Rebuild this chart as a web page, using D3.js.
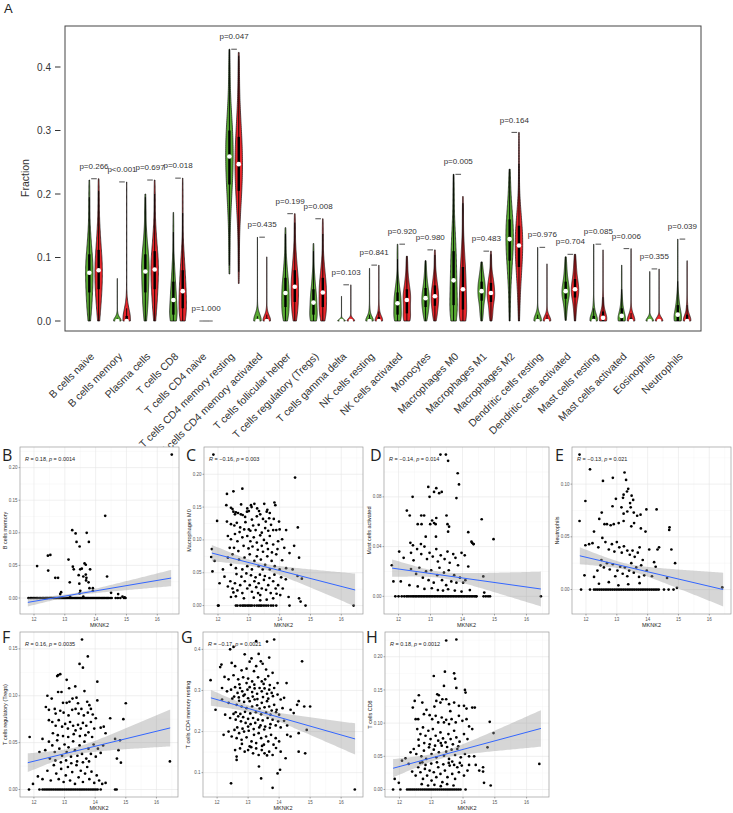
<!DOCTYPE html>
<html><head><meta charset="utf-8">
<script src="https://cdn.jsdelivr.net/npm/d3@7"></script>
<style>body{margin:0;background:#fff}svg{display:block}</style>
</head><body>
<svg id="c" width="733" height="813"></svg>
<script>
// ---------------- Panel A data ----------------
const categories = ["B cells naive","B cells memory","Plasma cells","T cells CD8","T cells CD4 naive","T cells CD4 memory resting","T cells CD4 memory activated","T cells follicular helper","T cells regulatory (Tregs)","T cells gamma delta","NK cells resting","NK cells activated","Monocytes","Macrophages M0","Macrophages M1","Macrophages M2","Dendritic cells resting","Dendritic cells activated","Mast cells resting","Mast cells activated","Eosinophils","Neutrophils"];
// quantiles at probs [0, .1, .25, .5, .75, .9, 1]
const normalQuantiles = [
 [0,0.02,0.045,0.076,0.105,0.14,0.222],
 [0,0,0,0,0.002,0.012,0.067],
 [0,0.02,0.045,0.078,0.105,0.135,0.2],
 [0,0,0.01,0.033,0.062,0.095,0.171],
 [0,0,0,0,0,0,0],
 [0.074,0.17,0.215,0.259,0.3,0.34,0.428],
 [0,0,0,0,0.003,0.015,0.132],
 [0,0.008,0.022,0.044,0.068,0.095,0.147],
 [0,0,0.01,0.029,0.05,0.075,0.122],
 [0,0,0,0,0,0.002,0.039],
 [0,0,0,0,0.004,0.02,0.083],
 [0,0,0.01,0.028,0.045,0.065,0.121],
 [0,0.01,0.022,0.036,0.052,0.07,0.095],
 [0,0.005,0.025,0.064,0.11,0.15,0.231],
 [0,0.015,0.032,0.047,0.062,0.075,0.093],
 [0,0.06,0.095,0.129,0.16,0.19,0.239],
 [0,0,0,0,0.004,0.015,0.116],
 [0.001,0.02,0.035,0.047,0.062,0.08,0.101],
 [0,0,0,0,0.008,0.03,0.121],
 [0,0,0,0.008,0.02,0.04,0.088],
 [0,0,0,0,0,0.002,0.078],
 [0,0,0,0.01,0.025,0.045,0.129]
];
const tumorQuantiles = [
 [0,0.025,0.05,0.080,0.112,0.15,0.224],
 [0,0,0,0,0.008,0.03,0.219],
 [0,0.025,0.05,0.081,0.11,0.145,0.222],
 [0,0.005,0.02,0.047,0.08,0.115,0.225],
 [0,0,0,0,0,0,0],
 [0.059,0.16,0.205,0.247,0.29,0.335,0.423],
 [0,0,0,0,0.004,0.018,0.101],
 [0,0.012,0.03,0.054,0.08,0.11,0.169],
 [0,0.008,0.022,0.045,0.068,0.095,0.161],
 [0,0,0,0,0,0.003,0.057],
 [0,0,0,0,0.006,0.025,0.088],
 [0,0,0.012,0.033,0.05,0.07,0.102],
 [0,0.01,0.024,0.039,0.056,0.075,0.112],
 [0,0.003,0.018,0.05,0.085,0.12,0.196],
 [0,0.012,0.03,0.044,0.06,0.075,0.11],
 [0,0.05,0.085,0.119,0.15,0.185,0.297],
 [0,0,0,0,0.004,0.015,0.09],
 [0,0.02,0.037,0.05,0.066,0.085,0.105],
 [0,0,0,0.005,0.015,0.04,0.112],
 [0,0,0,0,0.005,0.02,0.114],
 [0,0,0,0,0,0.003,0.082],
 [0,0,0,0,0.01,0.03,0.095]
];
const pLabels = ["p=0.266","p<0.001","p=0.697","p=0.018","p=1.000","p=0.047","p=0.435","p=0.199","p=0.008","p=0.103","p=0.841","p=0.920","p=0.980","p=0.005","p=0.483","p=0.164","p=0.976","p=0.704","p=0.085","p=0.006","p=0.355","p=0.039"];
const fractionTicks = [0,0.1,0.2,0.3,0.4];

// ---------------- Scatter panels data (MKNK2 vs fraction) ----------------
const mknk2Ticks = [12,13,14,15,16];
const bMemoryPts = [[12.1,0.049],[12.45,0.065],[12.53,0.066],[12.46,0.042],[12.69,0.031],[12.78,0.031],[12.85,0.006],[12.88,0.009],[13.12,0.059],[13.24,0.104],[13.35,0.099],[13.38,0.086],[13.48,0.079],[13.71,0.1],[13.78,0.086],[13.26,0.048],[13.29,0.044],[13.16,0.024],[13.45,0.035],[13.47,0.022],[13.5,0.044],[13.55,0.045],[13.64,0.053],[13.68,0.051],[13.6,0.033],[13.68,0.036],[13.7,0.031],[13.69,0.027],[13.77,0.024],[13.82,0.044],[13.8,0.015],[13.91,0.015],[13.91,0.011],[13.5,0.011],[13.48,0.007],[14.31,0.126],[14.37,0.033],[14.5,0.008],[14.73,0.006],[14.87,0.002],[14.94,0.001],[13.6,0.002],[13.17,0.002],[16.47,0.22]];
const bMemoryZeros = [11.82,11.88,11.93,11.98,12.03,12.08,12.12,12.17,12.22,12.27,12.31,12.36,12.4,12.44,12.49,12.53,12.57,12.62,12.66,12.7,12.74,12.78,12.82,12.86,12.9,12.94,12.98,13.02,13.06,13.1,13.14,13.18,13.22,13.26,13.3,13.34,13.38,13.42,13.46,13.5,13.54,13.58,13.62,13.66,13.7,13.74,13.78,13.82,13.86,13.9,13.94,13.98,14.02,14.06,14.1,14.14,14.18,14.22,14.26,14.3,14.34,14.38,14.42,14.47,14.52,14.65,14.72,14.8,14.92,14.97];
const m0Pts = [[11.85,0.23],[14.5,0.195],[14.59,0.119],[11.97,0.129],[12.29,0.17],[12.5,0.174],[12.79,0.178],[12.27,0.153],[12.42,0.149],[12.5,0.143],[12.55,0.139],[12.65,0.141],[12.75,0.154],[12.8,0.138],[12.88,0.135],[12.95,0.148],[13.0,0.144],[13.09,0.15],[13.18,0.155],[13.27,0.148],[13.37,0.139],[13.5,0.155],[13.6,0.146],[13.83,0.157],[13.68,0.141],[13.46,0.132],
[12.47,0.147],[12.58,0.142],[12.74,0.139],[12.94,0.143],[13.07,0.153],[13.26,0.136],[13.33,0.144],[13.58,0.143],[13.66,0.133],[13.81,0.132],[13.86,0.153],
[12.29,0.128],[12.42,0.124],[12.53,0.122],[12.61,0.126],[12.72,0.119],[12.89,0.127],[13.0,0.116],[13.05,0.114],[13.14,0.122],[13.22,0.115],[13.32,0.123],[13.42,0.111],[13.53,0.118],[13.63,0.114],[13.79,0.115],[13.89,0.115],[14.0,0.116],[14.21,0.115],
[12.32,0.106],[12.42,0.101],[12.55,0.109],[12.63,0.098],[12.79,0.104],[12.95,0.106],[13.05,0.098],[13.16,0.104],[13.26,0.096],[13.37,0.107],[13.42,0.091],[13.49,0.1],[13.58,0.095],[13.68,0.106],[13.79,0.093],[13.95,0.098],[14.08,0.101],[14.32,0.08],[14.63,0.073],[14.47,0.091],
[11.78,0.074],[11.8,0.086],[11.89,0.068],[12.16,0.055],[12.32,0.073],[12.42,0.062],[12.47,0.078],[12.58,0.057],[12.68,0.07],[12.79,0.055],[12.86,0.073],[12.95,0.06],[13.03,0.078],[13.1,0.055],[13.18,0.068],[13.26,0.075],[13.32,0.06],[13.39,0.07],[13.45,0.055],[13.53,0.062],[13.6,0.075],[13.68,0.055],[13.74,0.068],[13.84,0.06],[13.89,0.078],[14.0,0.055],[14.08,0.069],[14.21,0.057],[14.42,0.055],[14.58,0.045],[14.72,0.041],
[11.82,0.052],[12.05,0.034],[12.21,0.044],[12.32,0.029],[12.4,0.037],[12.47,0.026],[12.55,0.034],[12.63,0.023],[12.72,0.031],[12.79,0.019],[12.87,0.037],[12.95,0.026],[13.03,0.031],[13.1,0.021],[13.18,0.037],[13.24,0.028],[13.32,0.034],[13.37,0.016],[13.42,0.026],[13.49,0.039],[13.56,0.024],[13.63,0.031],[13.71,0.019],[13.79,0.037],[13.87,0.026],[13.95,0.031],[14.02,0.016],[14.1,0.026],[14.29,0.013],[14.63,0.011],[14.68,0.006],[12.42,0.013],[12.58,0.014],[12.84,0.011],[13.16,0.012],[13.37,0.008],[13.58,0.009],[13.79,0.011],
[12.52,0.088],[12.66,0.083],[12.83,0.091],[12.99,0.087],[13.12,0.09],[13.29,0.085],[13.46,0.082],[13.62,0.086],[13.75,0.081],[13.93,0.086],[12.6,0.048],[12.76,0.044],[12.92,0.049],[13.07,0.046],[13.22,0.043],[13.36,0.047],[13.52,0.045],[13.67,0.042],[13.83,0.047],[14.05,0.043],[12.7,0.112],[12.85,0.116],[13.1,0.131],[13.55,0.128],[13.72,0.123],[13.98,0.128],[12.38,0.088],[14.15,0.088],[12.5,0.02],[13.3,0.019],[13.9,0.018],[14.2,0.04]];
const m0Zeros = [12.0,12.02,12.58,12.63,12.72,12.79,12.84,12.89,12.95,13.0,13.05,13.1,13.18,13.26,13.32,13.37,13.42,13.49,13.56,13.63,13.72,13.79,13.89,14.32,14.84,16.4];
const mastActPts = [[13.31,0.114],[13.48,0.114],[13.55,0.109],[13.85,0.099],[13.89,0.09],[13.81,0.079],[12.44,0.08],[12.93,0.088],[12.97,0.08],[13.11,0.084],[13.18,0.087],[13.27,0.083],[13.35,0.084],[12.26,0.069],[12.35,0.065],[12.71,0.065],[12.8,0.065],[12.6,0.058],[12.72,0.058],[12.99,0.058],[13.05,0.061],[13.11,0.059],[13.18,0.063],[13.16,0.058],[13.5,0.065],[13.53,0.058],[13.58,0.056],[13.55,0.052],[14.18,0.0516],[14.6,0.062],[14.97,0.046],[12.85,0.048],[13.17,0.048],[12.37,0.043],[12.45,0.041],[12.7,0.042],[14.3,0.043],[14.35,0.042],
[11.79,0.025],[11.84,0.012],[12.02,0.036],[12.16,0.031],[12.39,0.035],[12.47,0.029],[12.58,0.038],[12.71,0.034],[12.81,0.04],[12.89,0.03],[12.97,0.035],[13.07,0.032],[13.18,0.038],[13.23,0.028],[13.32,0.033],[13.44,0.03],[13.53,0.036],[13.6,0.027],[13.71,0.034],[13.78,0.031],[13.86,0.025],[13.97,0.035],[14.07,0.033],[14.28,0.044],[14.34,0.042],[14.18,0.024],[14.65,0.016],[12.07,0.012],[12.39,0.022],[12.55,0.018],[12.65,0.023],[12.76,0.015],[12.86,0.02],[12.94,0.013],[13.02,0.021],[13.1,0.011],[13.21,0.017],[13.28,0.023],[13.36,0.013],[13.42,0.019],[13.49,0.009],[13.57,0.021],[13.65,0.012],[13.74,0.017],[13.81,0.011],[13.92,0.015],[14.02,0.011],[14.09,0.013],[12.34,0.009],[12.6,0.008],[12.81,0.006],[13.04,0.0065],[13.23,0.005],[13.39,0.0046],[13.55,0.0057],[13.76,0.0046],[13.97,0.0038],[14.23,0.005],[14.68,0.003]];
const mastActZeros = [11.9,12.0,12.1,12.18,12.25,12.3,12.36,12.42,12.47,12.52,12.57,12.62,12.67,12.72,12.77,12.82,12.87,12.92,12.97,13.02,13.07,13.12,13.17,13.22,13.27,13.32,13.37,13.42,13.47,13.52,13.57,13.62,13.67,13.72,13.77,13.82,13.87,13.92,13.97,14.02,14.07,14.12,14.17,14.22,14.27,14.32,14.37,14.42,14.44,14.66,14.73,14.8,14.86,16.45];
const neutroPts = [[11.79,0.128],[12.13,0.114],[12.55,0.103],[12.87,0.106],[13.25,0.111],[13.3,0.104],[11.98,0.084],[13.37,0.0955],[13.33,0.093],[13.22,0.09],[13.2,0.087],[12.97,0.086],[13.48,0.089],[13.53,0.085],[13.43,0.082],[12.51,0.073],[12.86,0.079],[13.15,0.078],[13.22,0.072],[13.34,0.074],[13.45,0.078],[13.55,0.073],[13.66,0.07],[13.77,0.071],[13.96,0.076],[14.29,0.076],[11.79,0.065],[12.43,0.067],[12.6,0.062],[12.68,0.062],[12.8,0.061],[12.9,0.062],[13.06,0.063],[13.22,0.065],[13.47,0.06],[13.56,0.063],[13.78,0.058],[13.93,0.055],[14.71,0.059],
[11.98,0.042],[12.1,0.043],[12.21,0.044],[12.26,0.055],[12.4,0.04],[12.53,0.049],[12.63,0.045],[12.74,0.038],[12.84,0.043],[12.92,0.036],[13.0,0.045],[13.08,0.04],[13.16,0.035],[13.23,0.041],[13.34,0.037],[13.42,0.033],[13.51,0.037],[13.58,0.031],[13.68,0.035],[13.74,0.04],[13.84,0.028],[14.05,0.038],[14.32,0.038],[14.37,0.04],[14.77,0.038],[14.89,0.025],[14.7,0.0565],
[11.95,0.0135],[12.26,0.012],[12.37,0.018],[12.47,0.023],[12.5,0.028],[12.58,0.021],[12.68,0.025],[12.77,0.019],[12.87,0.024],[12.95,0.0126],[13.02,0.018],[13.11,0.0216],[13.19,0.015],[13.26,0.021],[13.34,0.0126],[13.4,0.018],[13.47,0.025],[13.55,0.016],[13.63,0.021],[13.72,0.012],[13.79,0.023],[13.89,0.0135],[13.97,0.018],[14.14,0.0126],[14.21,0.026],[14.26,0.0216],[14.63,0.011],[12.42,0.0055],[12.74,0.007],[13.05,0.004],[13.37,0.005],[13.74,0.006],[14.95,0.0016],[16.42,0.002]];
const neutroZeros = [11.84,12.13,12.26,12.32,12.38,12.44,12.5,12.56,12.62,12.68,12.74,12.8,12.86,12.92,12.98,13.04,13.1,13.16,13.22,13.28,13.34,13.4,13.46,13.52,13.58,13.64,13.7,13.76,13.82,13.88,13.94,14.0,14.06,14.12,14.18,14.24,14.3,14.36,14.53,14.68,14.84];
const tregPts = [[13.57,0.16],[13.76,0.142],[13.49,0.134],[13.6,0.13],[12.79,0.122],[12.86,0.123],[12.76,0.121],[14.07,0.115],[13.07,0.117],[12.44,0.1],[12.58,0.097],[12.79,0.104],[12.95,0.0925],[13.07,0.0925],[13.16,0.0936],[13.26,0.097],[13.39,0.098],[13.44,0.092],[13.74,0.0936],[13.81,0.09],[14.07,0.095],[15.0,0.092],[12.39,0.088],[12.49,0.085],[12.68,0.086],[12.71,0.081],[12.86,0.084],[12.97,0.082],[13.13,0.079],[13.25,0.085],[13.36,0.086],[13.46,0.081],[13.55,0.086],[13.63,0.079],[13.76,0.082],[13.86,0.086],[13.92,0.08],[14.02,0.076],[14.49,0.076],[14.92,0.075],[11.86,0.056],[12.28,0.054],[12.49,0.074],[12.6,0.072],[12.71,0.068],[12.81,0.074],[12.92,0.067],[13.02,0.07],[13.11,0.065],[13.18,0.072],[13.28,0.068],[13.36,0.063],[13.44,0.069],[13.53,0.065],[13.6,0.071],[13.71,0.068],[13.78,0.061],[13.86,0.072],[13.97,0.065],[14.18,0.066],[14.28,0.067],[14.34,0.06],[14.76,0.042],[14.81,0.0525],[14.65,0.054],
[12.18,0.04],[12.37,0.042],[12.49,0.051],[12.6,0.047],[12.68,0.04],[12.76,0.0525],[12.83,0.0436],[12.92,0.036],[13.0,0.048],[13.07,0.04],[13.13,0.045],[13.21,0.035],[13.28,0.0514],[13.34,0.042],[13.42,0.036],[13.49,0.047],[13.57,0.038],[13.65,0.051],[13.71,0.033],[13.78,0.0436],[13.86,0.038],[13.95,0.048],[14.02,0.035],[14.09,0.0436],[14.18,0.039],[14.26,0.047],[14.71,0.033],[14.84,0.0286],
[11.97,0.006],[12.13,0.014],[12.28,0.011],[12.44,0.02],[12.55,0.0096],[12.65,0.026],[12.73,0.017],[12.81,0.011],[12.89,0.022],[12.97,0.008],[13.04,0.015],[13.11,0.024],[13.18,0.0096],[13.25,0.0186],[13.34,0.006],[13.39,0.026],[13.46,0.013],[13.53,0.02],[13.6,0.008],[13.67,0.017],[13.74,0.024],[13.81,0.011],[13.88,0.019],[13.97,0.007],[14.05,0.015],[14.13,0.0096],[14.23,0.006],[14.34,0.007],[16.44,0.03],
[12.62,0.06],[12.78,0.058],[12.95,0.057],[13.12,0.056],[13.3,0.059],[13.5,0.057],[13.68,0.058],[13.9,0.056],[12.7,0.031],[12.88,0.029],[13.05,0.031],[13.22,0.028],[13.41,0.03],[13.6,0.029],[13.8,0.03],[12.52,0.033],[13.15,0.108],[13.35,0.11],[13.65,0.105],[12.9,0.104]];
const tregZeros = [11.84,12.18,12.28,12.34,12.4,12.46,12.52,12.58,12.64,12.7,12.76,12.82,12.88,12.94,13.0,13.06,13.12,13.18,13.24,13.3,13.36,13.42,13.48,13.54,13.6,13.66,13.72,13.78,13.84,13.9,13.96,14.02,14.08,14.18,14.65,14.7];
const cd4RestPts = [[13.26,0.42],[13.84,0.424],[12.42,0.4],[12.53,0.406],[13.61,0.419],[13.34,0.389],[12.89,0.388],[13.11,0.378],[13.05,0.37],[13.41,0.371],[13.47,0.365],[13.68,0.38],[14.74,0.371],[12.14,0.363],[12.1,0.357],[12.47,0.367],[12.58,0.359],[12.79,0.349],[12.95,0.353],[13.19,0.347],[13.26,0.359],[13.58,0.351],[13.79,0.343],[12.53,0.337],[12.24,0.333],[12.37,0.327],[11.79,0.325],[12.68,0.327],[12.84,0.332],[13.0,0.329],[13.13,0.322],[13.32,0.332],[13.44,0.322],[13.55,0.327],[13.65,0.335],[13.95,0.318],[14.24,0.318],
[12.16,0.306],[12.32,0.298],[12.45,0.302],[12.58,0.308],[12.66,0.294],[12.74,0.306],[12.81,0.298],[12.89,0.29],[12.98,0.302],[13.05,0.308],[13.13,0.296],[13.21,0.305],[13.29,0.292],[13.37,0.306],[13.44,0.298],[13.53,0.305],[13.61,0.292],[13.68,0.302],[13.76,0.294],[13.84,0.306],[13.95,0.29],[14.05,0.278],[14.16,0.282],[14.58,0.265],[14.63,0.274],[14.81,0.261],[15.0,0.261],[12.16,0.278],[12.37,0.27],[12.49,0.28],[12.63,0.265],[12.71,0.275],[12.79,0.261],[12.87,0.272],[12.95,0.257],[13.05,0.274],[13.13,0.261],[13.21,0.278],[13.29,0.264],[13.37,0.256],[13.44,0.27],[13.53,0.259],[13.61,0.274],[13.68,0.261],[13.76,0.251],[13.84,0.265],[13.92,0.253],[14.0,0.241],[14.11,0.257],[14.37,0.253],[14.47,0.245],[14.16,0.226],
[11.95,0.253],[12.26,0.241],[12.42,0.233],[12.53,0.243],[12.6,0.229],[12.68,0.237],[12.77,0.225],[12.84,0.235],[12.92,0.221],[13.0,0.231],[13.08,0.218],[13.16,0.233],[13.23,0.221],[13.32,0.229],[13.4,0.215],[13.47,0.227],[13.55,0.212],[13.63,0.233],[13.72,0.218],[13.79,0.229],[13.89,0.215],[13.97,0.225],[14.05,0.21],[14.26,0.215],
[12.21,0.192],[12.37,0.2],[12.47,0.188],[12.56,0.204],[12.63,0.184],[12.71,0.196],[12.79,0.18],[12.87,0.2],[12.95,0.186],[13.02,0.202],[13.11,0.176],[13.19,0.192],[13.26,0.172],[13.34,0.196],[13.42,0.184],[13.51,0.168],[13.58,0.188],[13.65,0.176],[13.74,0.192],[13.82,0.168],[13.89,0.184],[14.0,0.176],[14.26,0.192],[14.37,0.188],[14.63,0.196],[14.89,0.204],
[12.58,0.155],[12.63,0.139],[12.63,0.131],[12.74,0.159],[12.89,0.151],[13.0,0.155],[13.05,0.164],[13.16,0.147],[13.26,0.159],[13.34,0.143],[13.44,0.155],[13.53,0.147],[13.61,0.142],[13.68,0.151],[13.79,0.143],[14.05,0.151],[14.21,0.135],[14.63,0.151],[14.84,0.147],[13.35,0.115],[13.95,0.098],[14.03,0.107],
[12.45,0.074],[13.42,0.086],[13.79,0.063],[16.44,0.059],
[12.55,0.285],[12.7,0.283],[12.85,0.287],[13.0,0.281],[13.15,0.285],[13.3,0.279],[13.48,0.284],[13.65,0.28],[13.8,0.286],[12.6,0.247],[12.75,0.243],[12.9,0.248],[13.07,0.244],[13.25,0.247],[13.42,0.242],[13.58,0.246],[13.72,0.241],[13.9,0.247],[12.65,0.21],[12.82,0.207],[13.0,0.212],[13.18,0.206],[13.36,0.21],[13.52,0.205],[13.7,0.209],[12.72,0.315],[12.95,0.318],[13.2,0.314],[13.5,0.316],[13.7,0.313],[12.8,0.17],[13.1,0.162],[13.45,0.165],[13.9,0.16]];
const cd8Pts = [[13.47,0.2245],[13.79,0.226],[13.08,0.171],[13.43,0.1775],[13.72,0.175],[13.75,0.167],[13.4,0.156],[14.06,0.15],[14.08,0.146],[13.79,0.153],[12.61,0.142],[12.72,0.131],[12.48,0.1335],[13.19,0.1435],[13.24,0.142],[13.16,0.1335],[13.29,0.131],[13.35,0.136],[13.47,0.136],[13.56,0.1285],[13.72,0.131],[13.87,0.126],[14.03,0.126],[14.11,0.122],[14.29,0.1235],[14.37,0.1235],[12.42,0.1235],[12.51,0.106],[12.59,0.106],[12.77,0.1135],[12.95,0.112],[13.03,0.106],[13.14,0.111],[13.22,0.101],[13.33,0.1085],[13.4,0.101],[13.47,0.105],[13.56,0.0985],[13.64,0.106],[13.77,0.101],[13.87,0.111],[13.98,0.1035],[14.11,0.106],[14.19,0.095],[14.29,0.091],[14.84,0.102],[14.96,0.085],
[12.56,0.091],[12.66,0.0835],[12.74,0.0935],[12.82,0.081],[12.91,0.0885],[12.98,0.076],[13.05,0.091],[13.14,0.081],[13.22,0.0735],[13.29,0.086],[13.37,0.077],[13.45,0.071],[13.54,0.0835],[13.61,0.076],[13.72,0.0885],[13.79,0.0785],[13.89,0.072],[14.03,0.0835],[14.14,0.076],[14.77,0.0635],
[12.35,0.056],[12.08,0.0435],[12.19,0.047],[12.45,0.061],[12.53,0.0535],[12.61,0.066],[12.69,0.05],[12.77,0.0585],[12.84,0.046],[12.93,0.0635],[13.01,0.0535],[13.08,0.06],[13.16,0.0485],[13.24,0.056],[13.33,0.066],[13.4,0.051],[13.47,0.057],[13.56,0.046],[13.64,0.06],[13.75,0.052],[13.82,0.061],[13.93,0.0485],[14.06,0.0535],[14.19,0.05],[14.35,0.05],
[11.85,0.016],[11.98,0.01],[12.4,0.027],[12.51,0.021],[12.59,0.0335],[12.66,0.026],[12.74,0.016],[12.8,0.031],[12.87,0.021],[12.95,0.0285],[13.01,0.0135],[13.08,0.026],[13.16,0.0185],[13.22,0.0335],[13.29,0.0235],[13.35,0.011],[13.43,0.0285],[13.51,0.0185],[13.58,0.036],[13.66,0.0235],[13.75,0.016],[13.82,0.0335],[13.87,0.026],[13.96,0.036],[14.03,0.021],[14.14,0.0285],[14.19,0.037],[14.4,0.037],[14.51,0.0285],[14.63,0.0335],[14.63,0.027],[14.66,0.01],[14.87,0.006],[16.4,0.0385],[12.29,0.0385],[12.72,0.041],[13.66,0.042],
[12.6,0.075],[12.78,0.07],[12.95,0.068],[13.12,0.066],[13.3,0.07],[13.5,0.064],[13.68,0.068],[13.85,0.065],[12.65,0.04],[12.82,0.037],[13.0,0.039],[13.18,0.041],[13.38,0.038],[13.55,0.04],[13.72,0.037],[13.9,0.04],[12.7,0.008],[12.9,0.006],[13.1,0.007],[13.3,0.005],[13.5,0.008],[13.7,0.006],[12.85,0.12],[13.1,0.125],[13.6,0.118]];
const cd8Zeros = [11.8,12.03,12.24,12.3,12.36,12.42,12.48,12.54,12.6,12.66,12.72,12.78,12.84,12.9,12.96,13.02,13.08,13.14,13.2,13.26,13.32,13.38,13.44,13.5,13.56,13.62,13.68,13.74,13.8,13.86,13.92,14.08];

// linear fits: [x at left, y at left, x at right, y at right], CI: [x mean, min half-width, half-width at right]
const bMemoryFit = [11.8,-0.0067,16.45,0.0306], bMemoryCI = [13.3,0.002,0.0125];
const m0Fit = [11.8,0.080,16.45,0.0237], m0CI = [13.3,0.004,0.025];
const mastActFit = [11.8,0.0227,16.45,0.0059], mastActCI = [13.3,0.0025,0.014];
const neutroFit = [11.8,0.032,16.45,0.0], neutroCI = [13.3,0.003,0.016];
const tregFit = [11.8,0.0286,16.45,0.0657], tregCI = [13.3,0.004,0.0197];
const cd4RestFit = [11.8,0.282,16.45,0.182], cd4RestCI = [13.3,0.007,0.038];
const cd8Fit = [11.8,0.032,16.45,0.092], cd8CI = [13.3,0.005,0.0275];

const yTicksB = [0,0.05,0.1,0.15,0.2], yTicksC = [0,0.05,0.1,0.15,0.2], yTicksD = [0,0.04,0.08], yTicksE = [0,0.05,0.1];
const yTicksF = [0,0.05,0.1,0.15], yTicksG = [0.1,0.2,0.3,0.4], yTicksH = [0,0.05,0.1,0.15,0.2];
const corrR = ["0.18","\u22120.16","\u22120.14","\u22120.13","0.16","\u22120.17","0.18"];
const corrP = ["0.0014","0.003","0.014","0.021","0.0035","0.0021","0.0012"];

// ================= drawing =================
const svg = d3.select("#c");
const FONT = "'Liberation Sans', Arial, sans-serif";
svg.append("rect").attr("width",733).attr("height",813).attr("fill","#fff");

// ---------- Panel A ----------
const gA = svg.append("g");
gA.append("text").attr("x",4).attr("y",13).attr("font-family",FONT).attr("font-size",13).attr("fill","#222").text("A");
const xA = d3.scaleLinear().domain([0,64]).range([89.3,687.1]);
const yA = d3.scaleLinear().domain([0,0.4]).range([321,67]);
const unitPx = xA(1)-xA(0);
const halfW = 0.4*unitPx;

gA.append("rect").attr("x",65).attr("y",26).attr("width",636).attr("height",305).attr("fill","none").attr("stroke","#444").attr("stroke-width",1);
fractionTicks.forEach(t=>{
  gA.append("line").attr("x1",55).attr("x2",60.5).attr("y1",yA(t)).attr("y2",yA(t)).attr("stroke","#333");
  gA.append("text").attr("x",51).attr("y",yA(t)).attr("dy","0.35em").attr("text-anchor","end")
    .attr("font-family",FONT).attr("font-size",10).attr("fill","#333").text(d3.format(".1f")(t));
});
gA.append("text").attr("transform","translate(29,178) rotate(-90)").attr("text-anchor","middle")
  .attr("font-family",FONT).attr("font-size",10.5).attr("fill","#333").text("Fraction");

function violinProfile(q){
  const probs=[0,.1,.25,.5,.75,.9,1];
  const lo=q[0], hi=q[6];
  if(hi-lo<1e-9) return null;
  const qf=d3.scaleLinear().domain(probs).range(q);
  const s=d3.range(0,201).map(k=>qf(k/200));
  const sd=d3.deviation(s);
  const h=Math.max(0.36*sd,(hi-lo)*0.02);
  const grid=d3.range(0,121).map(k=>lo+(hi-lo)*k/120);
  const dens=grid.map(v=>d3.sum(s,u=>Math.exp(-0.5*((v-u)/h)**2)));
  const m=d3.max(dens);
  return grid.map((v,k)=>({v,w:dens[k]/m}));
}
function drawViolin(q, pos, fill){
  const cx=xA(pos);
  const prof=violinProfile(q);
  if(!prof){
    gA.append("line").attr("x1",cx-2).attr("x2",cx+2).attr("y1",yA(0)).attr("y2",yA(0)).attr("stroke","#333").attr("stroke-width",0.8);
    return;
  }
  const area=d3.area().y(d=>yA(d.v)).x0(d=>cx-d.w*halfW).x1(d=>cx+d.w*halfW);
  gA.append("path").datum(prof).attr("d",area).attr("fill",fill).attr("stroke","#111").attr("stroke-width",0.7);
  const iqr=q[4]-q[2];
  const up=Math.min(q[6],q[4]+1.5*iqr), dn=Math.max(q[0],q[2]-1.5*iqr);
  gA.append("line").attr("x1",cx).attr("x2",cx).attr("y1",yA(dn)).attr("y2",yA(up)).attr("stroke","#000").attr("stroke-width",0.9);
  gA.append("rect").attr("x",cx-1.2).attr("width",2.4).attr("y",yA(q[4])).attr("height",Math.max(0.01,yA(q[2])-yA(q[4]))).attr("fill","#000");
  gA.append("circle").attr("cx",cx).attr("cy",yA(q[3])).attr("r",2.3).attr("fill","#fff");
}
categories.forEach((c,i)=>{
  drawViolin(normalQuantiles[i],3*i,"#59aa33");
  drawViolin(tumorQuantiles[i],3*i+1,"#e8252a");
  const mx=Math.max(normalQuantiles[i][6],tumorQuantiles[i][6]);
  gA.append("line").attr("x1",xA(3*i+0.2)).attr("x2",xA(3*i+0.8)).attr("y1",yA(mx)).attr("y2",yA(mx)).attr("stroke","#222").attr("stroke-width",0.8);
  gA.append("text").attr("x",xA(3*i+0.5)).attr("y",yA(mx+0.02)).attr("dy","0.35em").attr("text-anchor","middle")
    .attr("font-family",FONT).attr("font-size",8).attr("fill","#333").text(pLabels[i]);
  gA.append("text").attr("transform",`translate(${xA(3*i+0.5)+1},357) rotate(-45)`).attr("text-anchor","end")
    .attr("font-family",FONT).attr("font-size",10.5).attr("fill","#333").text(c);
});

// ---------- Scatter panels ----------
const panels = [
 {letter:"B", title:"B cells memory", pts:bMemoryPts, zeros:bMemoryZeros, fit:bMemoryFit, ci:bMemoryCI, ticks:yTicksB, fmt:".2f", box:[20,447,179,614], lp:[2,461]},
 {letter:"C", title:"Macrophages M0", pts:m0Pts, zeros:m0Zeros, fit:m0Fit, ci:m0CI, ticks:yTicksC, fmt:".2f", box:[204,447,363,614], lp:[186,461]},
 {letter:"D", title:"Mast cells activated", pts:mastActPts, zeros:mastActZeros, fit:mastActFit, ci:mastActCI, ticks:yTicksD, fmt:".2f", box:[384,447,549,614], lp:[370,461]},
 {letter:"E", title:"Neutrophils", pts:neutroPts, zeros:neutroZeros, fit:neutroFit, ci:neutroCI, ticks:yTicksE, fmt:".2f", box:[572,447,731,614], lp:[555,461]},
 {letter:"F", title:"T cells regulatory (Tregs)", pts:tregPts, zeros:tregZeros, fit:tregFit, ci:tregCI, ticks:yTicksF, fmt:".2f", box:[20,632,178,797], lp:[2,643]},
 {letter:"G", title:"T cells CD4 memory resting", pts:cd4RestPts, zeros:[], fit:cd4RestFit, ci:cd4RestCI, ticks:yTicksG, fmt:".1f", box:[203,632,363,797], lp:[181,643]},
 {letter:"H", title:"T cells CD8", pts:cd8Pts, zeros:cd8Zeros, fit:cd8Fit, ci:cd8CI, ticks:yTicksH, fmt:".2f", box:[385,632,549,797], lp:[366,643]}
];
const allX = [];
panels.forEach(p=>{ p.pts.forEach(d=>allX.push(d[0])); p.zeros.forEach(x=>allX.push(x)); });
const xExt = d3.extent(allX);
const xPad = (xExt[1]-xExt[0])*0.05;
const xDom = [xExt[0]-xPad, xExt[1]+xPad];

panels.forEach((p,pi)=>{
  const [L,T,R,B]=p.box;
  const g=svg.append("g");
  const pts=p.pts.concat(p.zeros.map(x=>[x,0]));
  const [fx0,fy0,fx1,fy1]=p.fit; const [xm,h0,hR]=p.ci;
  const fitY=x=>fy0+(fy1-fy0)*(x-fx0)/(fx1-fx0);
  const half=x=>Math.sqrt(h0*h0+(hR*hR-h0*h0)*Math.pow((x-xm)/(fx1-xm),2));
  const band=d3.range(0,81).map(k=>{const x=fx0+(fx1-fx0)*k/80; return {x,lo:fitY(x)-half(x),hi:fitY(x)+half(x)};});
  const yVals=pts.map(d=>d[1]).concat(band.map(b=>b.lo),band.map(b=>b.hi));
  const yExt=d3.extent(yVals); const yPad=(yExt[1]-yExt[0])*0.05;
  const xs=d3.scaleLinear().domain(xDom).range([L,R]);
  const ys=d3.scaleLinear().domain([yExt[0]-yPad,yExt[1]+yPad]).range([B,T]);
  g.append("rect").attr("x",L).attr("y",T).attr("width",R-L).attr("height",B-T).attr("fill","#fff");
  const step=p.ticks[1]-p.ticks[0];
  const yMinor=[]; for(let k=-1;k<p.ticks.length;k++){const v=p.ticks[0]+step*(k+0.5); if(v>ys.domain()[0]&&v<ys.domain()[1]) yMinor.push(v);}
  const xMinor=[]; for(let k=-1;k<mknk2Ticks.length;k++){const v=mknk2Ticks[0]+(k+0.5); if(v>xDom[0]&&v<xDom[1]) xMinor.push(v);}
  yMinor.forEach(v=>g.append("line").attr("x1",L).attr("x2",R).attr("y1",ys(v)).attr("y2",ys(v)).attr("stroke","#f2f2f2").attr("stroke-width",0.4));
  xMinor.forEach(v=>g.append("line").attr("y1",T).attr("y2",B).attr("x1",xs(v)).attr("x2",xs(v)).attr("stroke","#f2f2f2").attr("stroke-width",0.4));
  p.ticks.forEach(v=>g.append("line").attr("x1",L).attr("x2",R).attr("y1",ys(v)).attr("y2",ys(v)).attr("stroke","#e6e6e6").attr("stroke-width",0.6));
  mknk2Ticks.forEach(v=>g.append("line").attr("y1",T).attr("y2",B).attr("x1",xs(v)).attr("x2",xs(v)).attr("stroke","#e6e6e6").attr("stroke-width",0.6));
  g.selectAll("circle.pt").data(pts).enter().append("circle").attr("cx",d=>xs(d[0])).attr("cy",d=>ys(d[1])).attr("r",1.35).attr("fill","#000");
  g.append("path").datum(band).attr("d",d3.area().x(d=>xs(d.x)).y0(d=>ys(d.lo)).y1(d=>ys(d.hi))).attr("fill","#999").attr("fill-opacity",0.4);
  g.append("line").attr("x1",xs(fx0)).attr("y1",ys(fy0)).attr("x2",xs(fx1)).attr("y2",ys(fy1)).attr("stroke","#3366FF").attr("stroke-width",1);
  g.append("rect").attr("x",L).attr("y",T).attr("width",R-L).attr("height",B-T).attr("fill","none").attr("stroke","#9a9a9a").attr("stroke-width",0.7);
  p.ticks.forEach(v=>{
    g.append("line").attr("x1",L-1.5).attr("x2",L).attr("y1",ys(v)).attr("y2",ys(v)).attr("stroke","#555").attr("stroke-width",0.5);
    g.append("text").attr("x",L-2.5).attr("y",ys(v)).attr("dy","0.35em").attr("text-anchor","end").attr("font-family",FONT).attr("font-size",4.5).attr("fill","#555").text(d3.format(p.fmt)(v));
  });
  mknk2Ticks.forEach(v=>{
    g.append("line").attr("y1",B).attr("y2",B+1.5).attr("x1",xs(v)).attr("x2",xs(v)).attr("stroke","#555").attr("stroke-width",0.5);
    g.append("text").attr("x",xs(v)).attr("y",B+6.5).attr("text-anchor","middle").attr("font-family",FONT).attr("font-size",4.5).attr("fill","#555").text(v);
  });
  g.append("text").attr("x",(L+R)/2).attr("y",B+13).attr("text-anchor","middle").attr("font-family",FONT).attr("font-size",5.5).attr("fill","#222").text("MKNK2");
  g.append("text").attr("transform",`translate(${L-13},${(T+B)/2}) rotate(-90)`).attr("text-anchor","middle").attr("font-family",FONT).attr("font-size",5.5).attr("fill","#222").text(p.title);
  const st=g.append("text").attr("x",L+5).attr("y",T+14).attr("font-family",FONT).attr("font-size",5.5).attr("fill","#222");
  st.append("tspan").attr("font-style","italic").text("R");
  st.append("tspan").text(" = "+corrR[pi]+", ");
  st.append("tspan").attr("font-style","italic").text("p");
  st.append("tspan").text(" = "+corrP[pi]);
  svg.append("text").attr("x",p.lp[0]).attr("y",p.lp[1]).attr("font-family","'Open Sans', 'DejaVu Sans', sans-serif").attr("font-size",16).attr("fill","#222").text(p.letter);
});
</script>
</body></html>
